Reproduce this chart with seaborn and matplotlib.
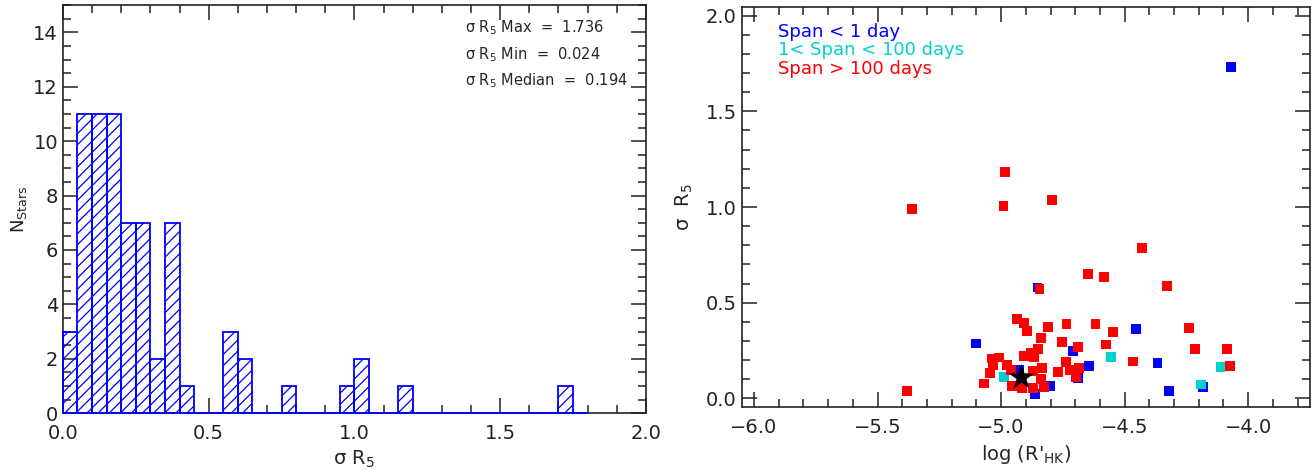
import numpy as np
import pandas as pd
import seaborn as sns
import matplotlib.pyplot as plt
from matplotlib.ticker import MultipleLocator, FuncFormatter

# --- histogram of sigma R5 (bin width 0.05, starting at 0) ---
bin_width = 0.05
bin_counts = [3, 11, 11, 11, 7, 7, 2, 7, 1, 0, 0, 3, 2, 0, 0, 1, 0, 0,
              0, 1, 2, 0, 0, 1, 0, 0, 0, 0, 0, 0, 0, 0, 0, 0, 1, 0]
stats_labels = ['Max', 'Min', 'Median']
stats_values = ['1.736', '0.024', '0.194']

# --- sigma R5 vs log R'HK ---
blue_logrhk = [-4.069, -5.100, -4.853, -4.709, -4.453, -4.645, -4.367,
               -4.321, -4.182, -4.864, -4.803, -4.688, -4.926]
blue_sigma = [1.733, 0.287, 0.580, 0.249, 0.364, 0.170, 0.183,
              0.038, 0.058, 0.022, 0.064, 0.108, 0.150]

cyan_logrhk = [-4.989, -4.554, -4.190, -4.112]
cyan_sigma = [0.110, 0.217, 0.073, 0.165]

red_logrhk = [-5.360, -5.380, -4.985, -4.990, -4.795, -4.430, -4.648, -4.584,
              -4.328, -4.845, -4.935, -4.908, -4.894, -4.809, -4.735, -4.618,
              -4.546, -4.239, -4.840, -4.755, -4.689, -4.576, -4.851, -4.881,
              -4.868, -4.908, -5.009, -5.036, -5.032, -5.046, -5.070, -4.975,
              -4.960, -4.834, -4.872, -4.770, -4.736, -4.723, -4.685, -4.696,
              -4.840, -4.827, -4.870, -4.915, -4.955, -4.465, -4.216, -4.087,
              -4.074]
red_sigma = [0.988, 0.040, 1.185, 1.007, 1.037, 0.786, 0.650, 0.636,
             0.587, 0.570, 0.413, 0.392, 0.352, 0.371, 0.387, 0.388,
             0.348, 0.369, 0.317, 0.293, 0.267, 0.282, 0.258, 0.238,
             0.217, 0.221, 0.214, 0.209, 0.174, 0.134, 0.078, 0.174,
             0.150, 0.160, 0.143, 0.136, 0.191, 0.148, 0.157, 0.110,
             0.101, 0.058, 0.054, 0.055, 0.064, 0.193, 0.258, 0.259,
             0.169]

sun_logrhk = [-4.92]
sun_sigma = [0.11]

span_names = ['Span < 1 day', '1< Span < 100 days', 'Span > 100 days']
span_colors = ['#0000ff', '#00d0d0', '#ff0000']

sns.set_style('ticks')
plt.rcParams['font.family'] = ['DejaVu Sans']
plt.rcParams['hatch.color'] = 'blue'
plt.rcParams['hatch.linewidth'] = 0.9
plt.rcParams['axes.linewidth'] = 1.2

one_decimal = FuncFormatter(lambda v, pos: f'{v:.1f}'.replace('-', '\u2212'))

fig = plt.figure(figsize=(13.16, 4.70), dpi=100)
ax1 = fig.add_axes([0.0478, 0.121, 0.443, 0.868])
ax2 = fig.add_axes([0.5636, 0.134, 0.4318, 0.851])

# left: histogram
n_bins = len(bin_counts)
hist_df = pd.DataFrame({
    'sigma': [bin_width * (i + 0.5) for i in range(n_bins)],
    'count': bin_counts,
})
sns.histplot(data=hist_df, x='sigma', weights='count', binwidth=bin_width,
             binrange=(0, bin_width * n_bins), fill=False, color='blue',
             element='bars', linewidth=1.3, ax=ax1, clip_on=False)
for p in ax1.patches:
    p.set_hatch('///')
    if hasattr(p, 'set_hatchcolor'):
        p.set_hatchcolor('blue')
    p.set_zorder(3)

ax1.set_xlim(0, 2.0)
ax1.set_ylim(0, 15)
ax1.xaxis.set_major_locator(MultipleLocator(0.5))
ax1.xaxis.set_minor_locator(MultipleLocator(0.1))
ax1.yaxis.set_major_locator(MultipleLocator(2))
ax1.yaxis.set_minor_locator(MultipleLocator(0.5))
ax1.xaxis.set_major_formatter(one_decimal)
ax1.set_xlabel('σ $\\mathregular{R_5}$', fontsize=14, labelpad=4)
ax1.set_ylabel('N$\\mathregular{_{Stars}}$', fontsize=13, labelpad=3)

for i, (lab, val) in enumerate(zip(stats_labels, stats_values)):
    ax1.text(0.69, 0.944 - i * 0.065,
             'σ R$\\mathregular{_5}$ ' + lab + '  =  ' + val,
             transform=ax1.transAxes, fontsize=10.5, va='center', ha='left')

# right: scatter
df = pd.DataFrame({
    'logrhk': blue_logrhk + cyan_logrhk + red_logrhk,
    'sigma': blue_sigma + cyan_sigma + red_sigma,
    'span': [span_names[0]] * len(blue_logrhk)
            + [span_names[1]] * len(cyan_logrhk)
            + [span_names[2]] * len(red_logrhk),
})
sns.scatterplot(data=df, x='logrhk', y='sigma', hue='span',
                hue_order=span_names, palette=span_colors, marker='s',
                s=50, linewidth=0, legend=False, ax=ax2)
sns.scatterplot(x=sun_logrhk, y=sun_sigma, marker='*', color='black',
                s=380, linewidth=0, ax=ax2, zorder=5)

ax2.set_xlim(-6.05, -3.75)
ax2.set_ylim(-0.045, 2.045)
ax2.xaxis.set_major_locator(MultipleLocator(0.5))
ax2.xaxis.set_minor_locator(MultipleLocator(0.1))
ax2.yaxis.set_major_locator(MultipleLocator(0.5))
ax2.yaxis.set_minor_locator(MultipleLocator(0.1))
ax2.xaxis.set_major_formatter(one_decimal)
ax2.yaxis.set_major_formatter(one_decimal)
ax2.set_xlabel("log (R'$\\mathregular{_{HK}}$)", fontsize=14, labelpad=4)
ax2.set_ylabel('σ  $\\mathregular{R_5}$', fontsize=14, labelpad=8)

for i, (name, col) in enumerate(zip(span_names, span_colors)):
    ax2.text(0.064, 0.938 - i * 0.0465, name, color=col, fontsize=13,
             transform=ax2.transAxes, va='center', ha='left')

for ax in (ax1, ax2):
    ax.tick_params(which='both', direction='in', top=True, right=True,
                   labelsize=14, width=1.1, colors='#222222')
    ax.tick_params(which='major', length=11)
    ax.tick_params(which='minor', length=6)
    ax.tick_params(axis='x', pad=8)
    for sp in ax.spines.values():
        sp.set_color('#222222')

fig.savefig('out.png', dpi=100)
